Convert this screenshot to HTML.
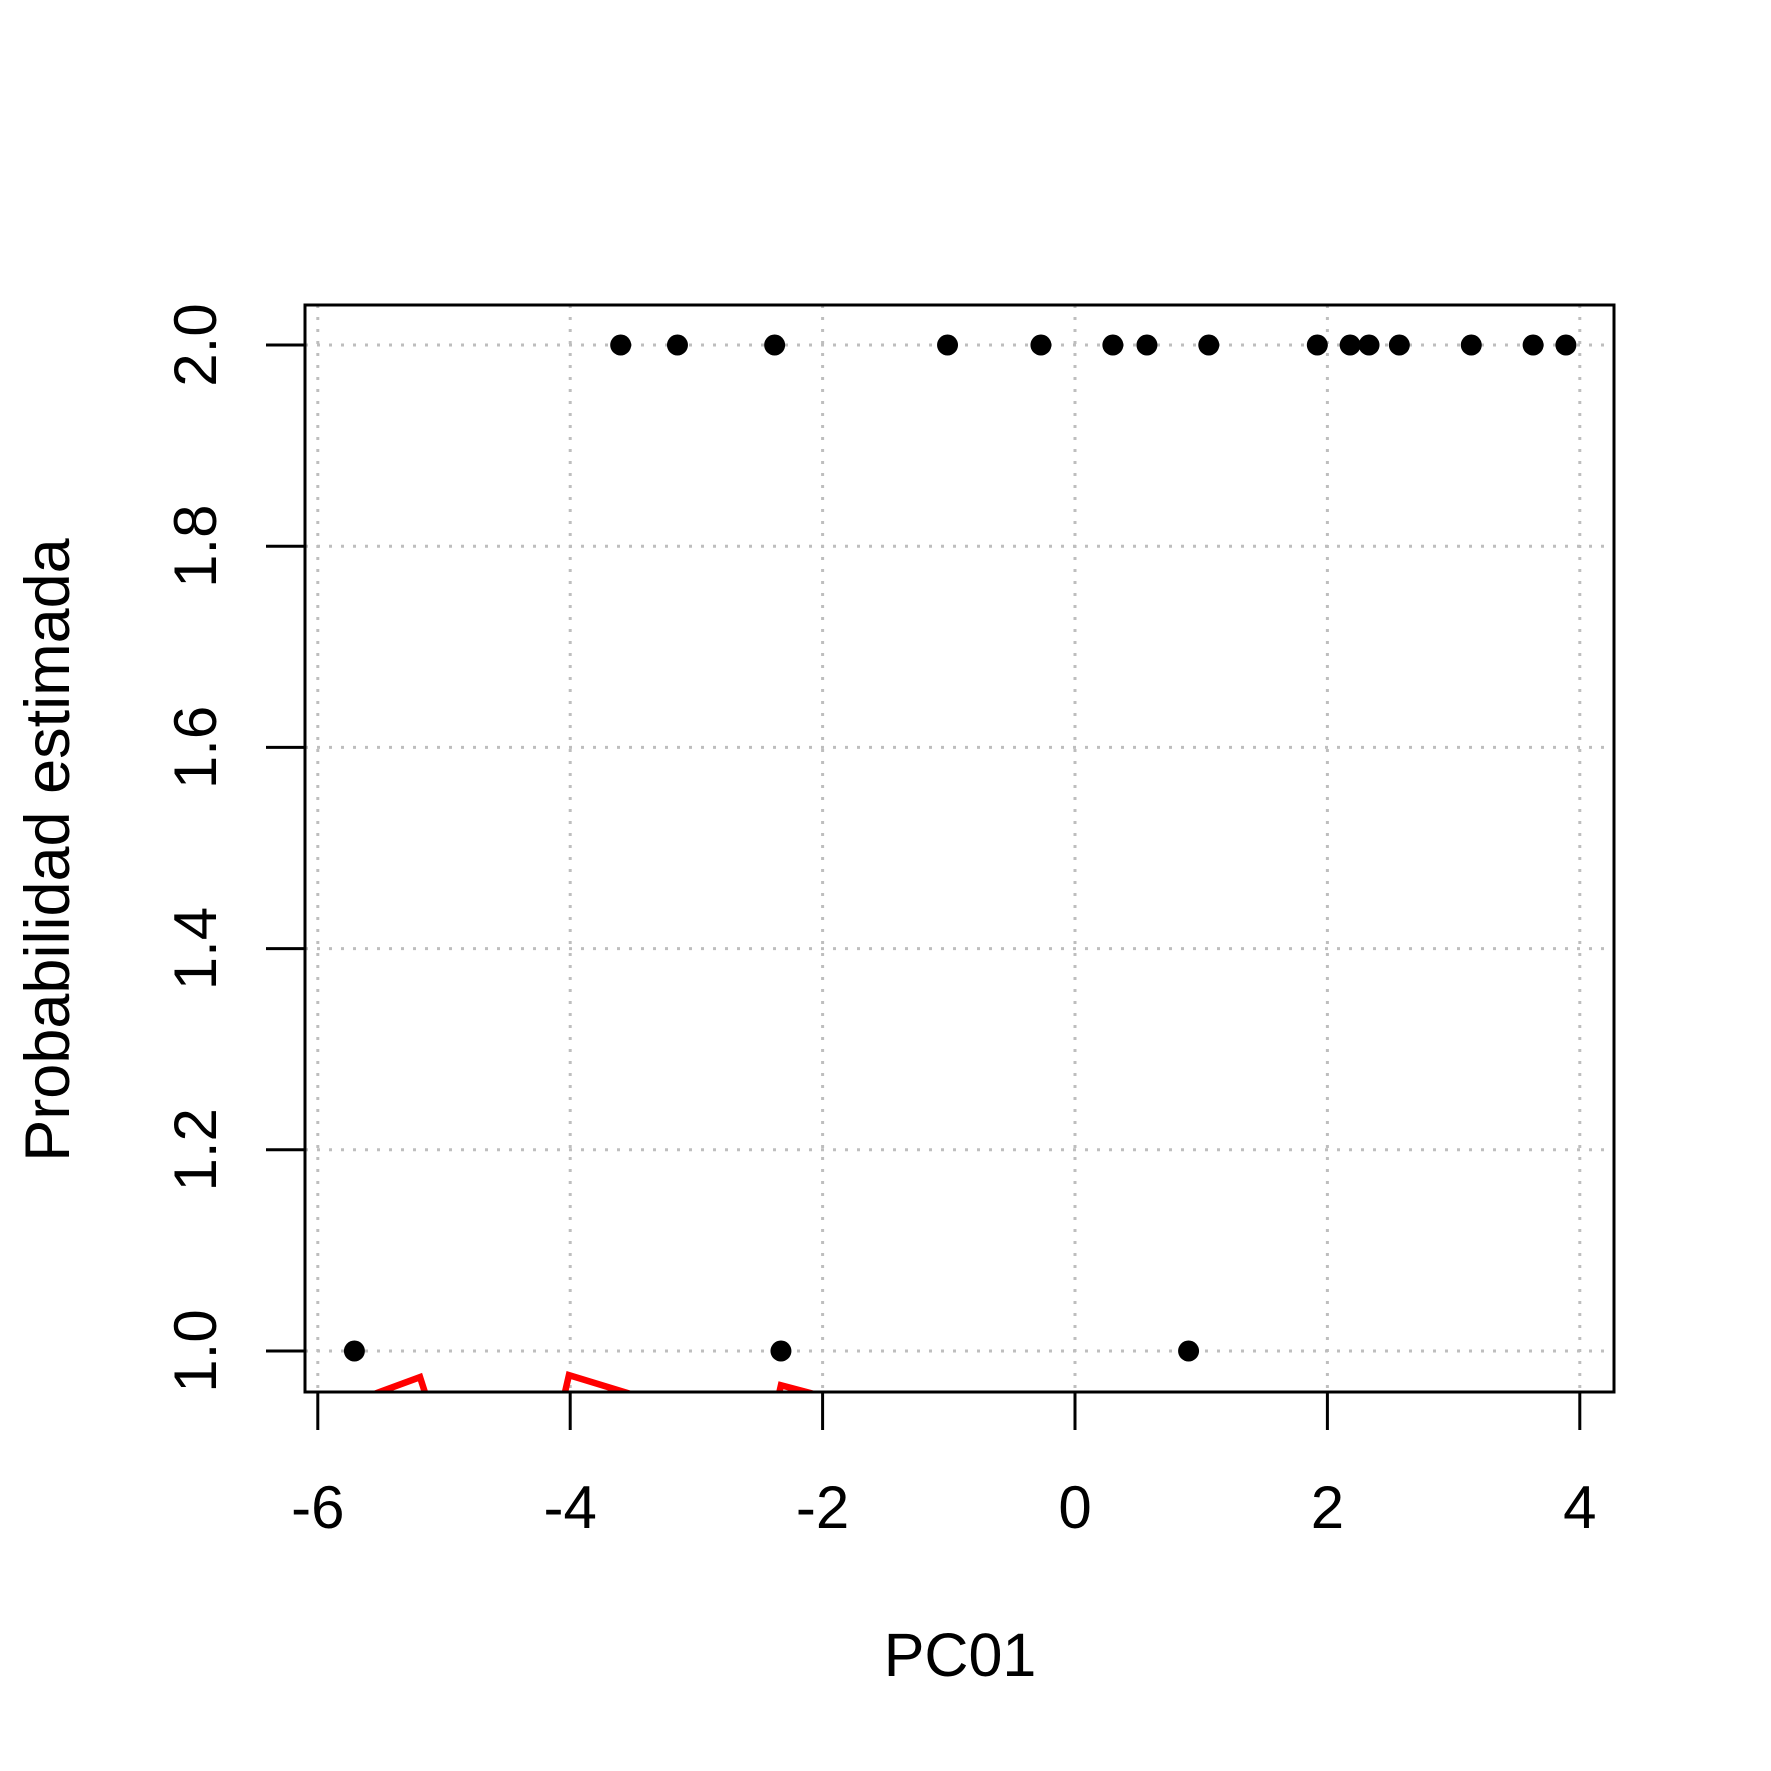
<!DOCTYPE html>
<html><head><meta charset="utf-8"><style>body{margin:0;background:#fff}svg{display:block}</style></head>
<body>
<svg id="chart" width="1771" height="1771" viewBox="0 0 1771 1771" xmlns="http://www.w3.org/2000/svg" font-family="Liberation Sans, Arial, sans-serif">
<defs><clipPath id="plotclip"><rect x="305" y="305" width="1309" height="1087"/></clipPath></defs>
<g id="grid"></g>
<g id="series" clip-path="url(#plotclip)"></g>
<g id="axes"></g>
<rect x="305" y="305" width="1309" height="1087" fill="none" stroke="#000" stroke-width="3"/>
<text x="960" y="1676" font-size="61" text-anchor="middle">PC01</text>
<text transform="translate(69,850) rotate(-90)" font-size="63" text-anchor="middle">Probabilidad estimada</text>
</svg>
<script>
const xTicks = [-6, -4, -2, 0, 2, 4];
const yTicks = [1.0, 1.2, 1.4, 1.6, 1.8, 2.0];
const yTickLabels = ["1.0", "1.2", "1.4", "1.6", "1.8", "2.0"];
const pointsX = [-3.60, -3.15, -2.38, -1.01, -0.27, 0.30, 0.57, 1.06, 1.92, 2.18, 2.33, 2.57, 3.14, 3.63, 3.89, -5.71, -2.33, 0.90];
const pointsY = [2, 2, 2, 2, 2, 2, 2, 2, 2, 2, 2, 2, 2, 2, 2, 1, 1, 1];
const lineX = [-5.71, -5.19, -5.0, -4.15, -4.01, -3.2, -2.45, -2.33, -1.7];
const lineY = [0.950, 0.974, 0.90, 0.90, 0.976, 0.945, 0.90, 0.966, 0.945];

const NS = "http://www.w3.org/2000/svg";
function sx(v){ return 1075 + v * 126.2; }
function sy(v){ return 1351 - (v - 1) * 1006; }
function mk(tag, attrs, parent){ const e = document.createElementNS(NS, tag); for (const k in attrs) e.setAttribute(k, attrs[k]); parent.appendChild(e); return e; }
const grid = document.getElementById('grid'), axes = document.getElementById('axes'), series = document.getElementById('series');

xTicks.forEach(t => {
  const g = mk('line', {x1: sx(t), x2: sx(t), y1: 305, y2: 1392, stroke: '#bebebe', 'stroke-width': 3, 'stroke-dasharray': '3 9'}, grid);
  
  
  const tk = mk('line', {x1: sx(t), x2: sx(t), y1: 1392, y2: 1430, stroke: '#000', 'stroke-width': 3}, axes);
  
  
  const lb = mk('text', {x: sx(t), y: 1528, 'font-size': 60, 'text-anchor': 'middle'}, axes);
  lb.textContent = String(t);
  
  
});
yTicks.forEach((t, i) => {
  const g = mk('line', {x1: 305, x2: 1614, y1: sy(t), y2: sy(t), stroke: '#bebebe', 'stroke-width': 3, 'stroke-dasharray': '3 9'}, grid);
  
  
  const tk = mk('line', {x1: 266, x2: 305, y1: sy(t), y2: sy(t), stroke: '#000', 'stroke-width': 3}, axes);
  
  
  const lb = mk('text', {transform: 'translate(216,' + sy(t) + ') rotate(-90)', 'font-size': 60, 'text-anchor': 'middle'}, axes);
  lb.textContent = yTickLabels[i];
  
  
});
const pts = lineX.map((x, i) => sx(x) + ',' + sy(lineY[i])).join(' ');
const pl = mk('polyline', {points: pts, fill: 'none', stroke: '#ff0000', 'stroke-width': 6.5, 'stroke-linejoin': 'miter'}, series);


pointsX.forEach((x, i) => {
  const c = mk('circle', {cx: sx(x), cy: sy(pointsY[i]), r: 10.5, fill: '#000'}, series);
  
  
});
</script>
</body></html>
